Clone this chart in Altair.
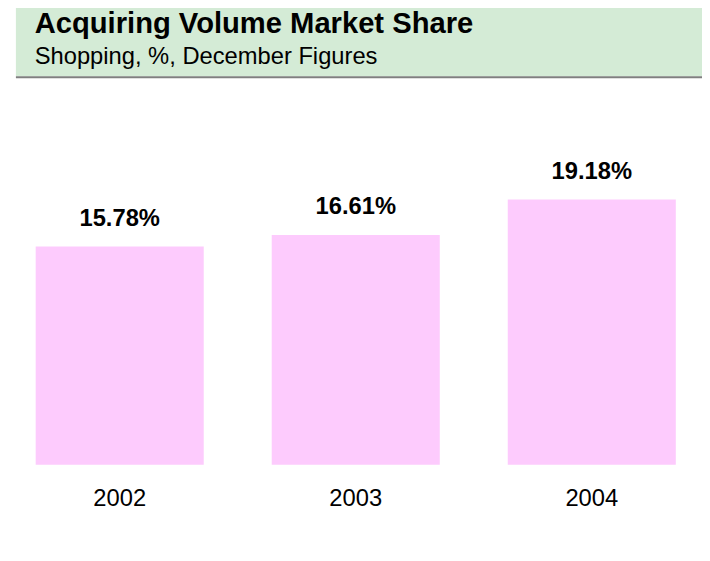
import altair as alt
import pandas as pd

years = ["2002", "2003", "2004"]
shares = [15.78, 16.61, 19.18]
labels = ["15.78%", "16.61%", "19.18%"]
title_text = "Acquiring Volume Market Share"
subtitle_text = "Shopping, %, December Figures"

df = pd.DataFrame({"year": years, "share": shares, "label": labels})

FONT = "Liberation Sans"

xscale = alt.Scale(domain=years, range=[28, 675.5], paddingInner=0.288, paddingOuter=0, round=False)
yscale = alt.Scale(domain=[0, 25], range=[459, 109])

base = alt.Chart(df)

bars = base.mark_bar(color="#fdcbfd").encode(
    x=alt.X("year:N", scale=xscale, axis=None, sort=years),
    y=alt.Y("share:Q", scale=yscale, axis=None),
)

value_text = base.mark_text(
    font=FONT, fontSize=24, fontWeight="bold", baseline="alphabetic", dy=-21, color="#000000"
).encode(
    x=alt.X("year:N", scale=xscale, axis=None, sort=years),
    y=alt.Y("share:Q", scale=yscale, axis=None),
    text="label:N",
)

cat_text = base.mark_text(
    font=FONT, fontSize=24, baseline="alphabetic", dy=42, color="#000000"
).encode(
    x=alt.X("year:N", scale=xscale, axis=None, sort=years),
    y=alt.datum(0, scale=yscale),
    text="year:N",
)

hdr = pd.DataFrame({"t": [title_text], "s": [subtitle_text]})

band = alt.Chart(hdr).mark_rect(color="#d4ebd6").encode(
    x=alt.value(8), x2=alt.value(702), y=alt.value(-8), y2=alt.value(66)
)
border = alt.Chart(hdr).mark_rect(color="#7f7f7f").encode(
    x=alt.value(8), x2=alt.value(702), y=alt.value(66), y2=alt.value(68)
)
title = alt.Chart(hdr).mark_text(
    font=FONT, fontSize=29.5, fontWeight="bold", align="left", baseline="alphabetic", color="#000000"
).encode(x=alt.value(27), y=alt.value(22), text="t:N")
subtitle = alt.Chart(hdr).mark_text(
    font=FONT, fontSize=24, align="left", baseline="alphabetic", color="#000000"
).encode(x=alt.value(27), y=alt.value(53), text="s:N")

chart = alt.layer(band, border, title, subtitle, bars, value_text, cat_text).properties(
    width=702, height=545, padding=0, autosize=alt.AutoSizeParams(type="none")
).configure_view(stroke=None)

chart.save("out.html", embed_options={"renderer": "svg", "actions": False})
